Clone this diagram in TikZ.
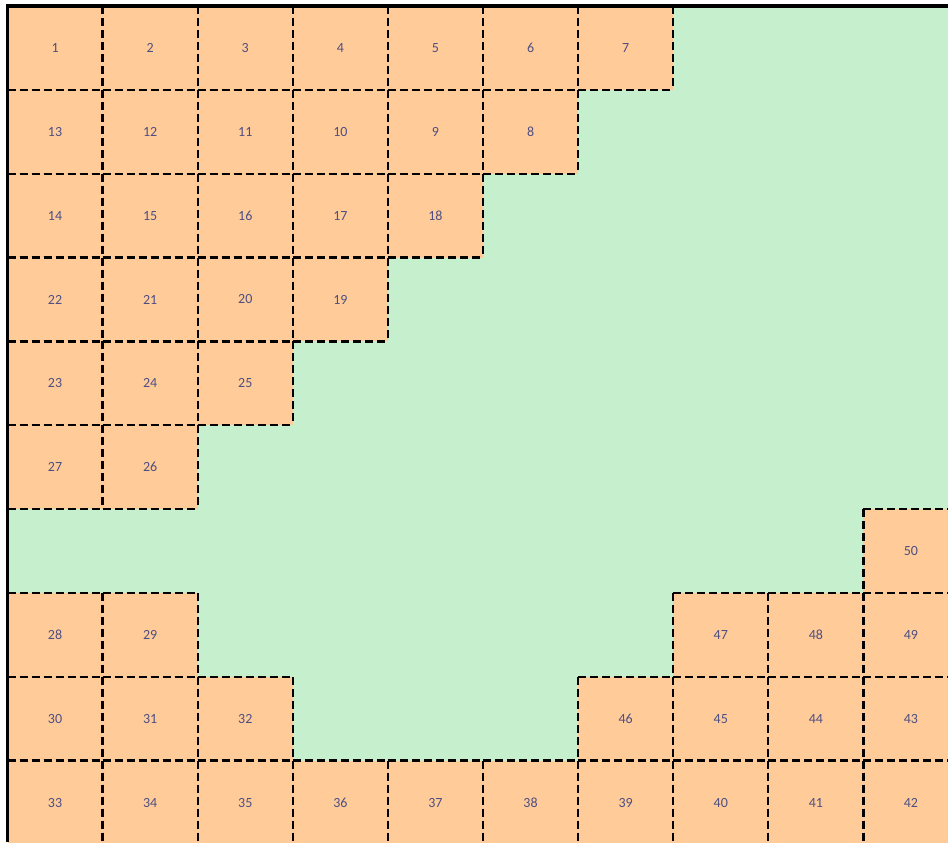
\documentclass[tikz,border=0pt]{standalone}
\usepackage{fontspec}
\setmainfont{Carlito}
\definecolor{cellfill}{RGB}{255,204,153}
\definecolor{voidfill}{RGB}{198,239,206}
\definecolor{numcol}{RGB}{78,78,130}
\begin{document}
\begin{tikzpicture}[x=0.75pt,y=-0.75pt,
  cellbody/.style={fill=cellfill,draw=none},
  celledge/.style={draw=black,line width=1.75pt,
                   dash pattern=on 6pt off 3pt},
  num/.style={font=\fontsize{10.5}{12}\selectfont,text=numcol}]
  \useasboundingbox (0,0) rectangle (948,842);

  % --- Parameters ---
  \def\xo{7.5}
  \def\yo{6}
  \def\cw{95.1}
  \def\rh{83.85}
  \def\cells{
      0/0/1, 1/0/2, 2/0/3, 3/0/4, 4/0/5, 5/0/6, 6/0/7,
      0/1/13, 1/1/12, 2/1/11, 3/1/10, 4/1/9, 5/1/8,
      0/2/14, 1/2/15, 2/2/16, 3/2/17, 4/2/18,
      0/3/22, 1/3/21, 2/3/20, 3/3/19,
      0/4/23, 1/4/24, 2/4/25,
      0/5/27, 1/5/26,
      9/6/50,
      0/7/28, 1/7/29, 7/7/47, 8/7/48, 9/7/49,
      0/8/30, 1/8/31, 2/8/32, 6/8/46, 7/8/45, 8/8/44, 9/8/43,
      0/9/33, 1/9/34, 2/9/35, 3/9/36, 4/9/37, 5/9/38, 6/9/39,
      7/9/40, 8/9/41, 9/9/42}

  % --- Empty area ---
  \path[fill=voidfill,draw=none] (\xo,\yo) rectangle (948,842);

  % --- Cell bodies (column/row/number) ---
  \foreach \c/\r/\n in \cells{
    \path[cellbody] ({\xo+\c*\cw},{\yo+\r*\rh}) rectangle ++(\cw,\rh);
    \node[num] (cell\n) at ({\xo+(\c+0.5)*\cw},{\yo+(\r+0.5)*\rh}) {\n};
  }

  % --- Cell edges, each drawn left-to-right / top-to-bottom ---
  \foreach \c/\r/\n in \cells{
    \pgfmathtruncatemacro{\cn}{\c+1}
    \pgfmathtruncatemacro{\rn}{\r+1}
    \pgfmathsetmacro{\xa}{\xo+\c*\cw}
    \pgfmathsetmacro{\xb}{\xo+\cn*\cw}
    \pgfmathsetmacro{\ya}{\yo+\r*\rh}
    \pgfmathsetmacro{\yb}{\yo+\rn*\rh}
    \draw[celledge] (\xa,\ya) -- (\xb,\ya);
    \draw[celledge] (\xa,\yb) -- (\xb,\yb);
    \draw[celledge] (\xa,\ya) -- (\xa,\yb);
    \draw[celledge] (\xb,\ya) -- (\xb,\yb);
  }

  % --- Frame ---
  \draw[line width=2.4pt] (\xo,842) -- (\xo,\yo) -- (948,\yo);
\end{tikzpicture}
\end{document}
